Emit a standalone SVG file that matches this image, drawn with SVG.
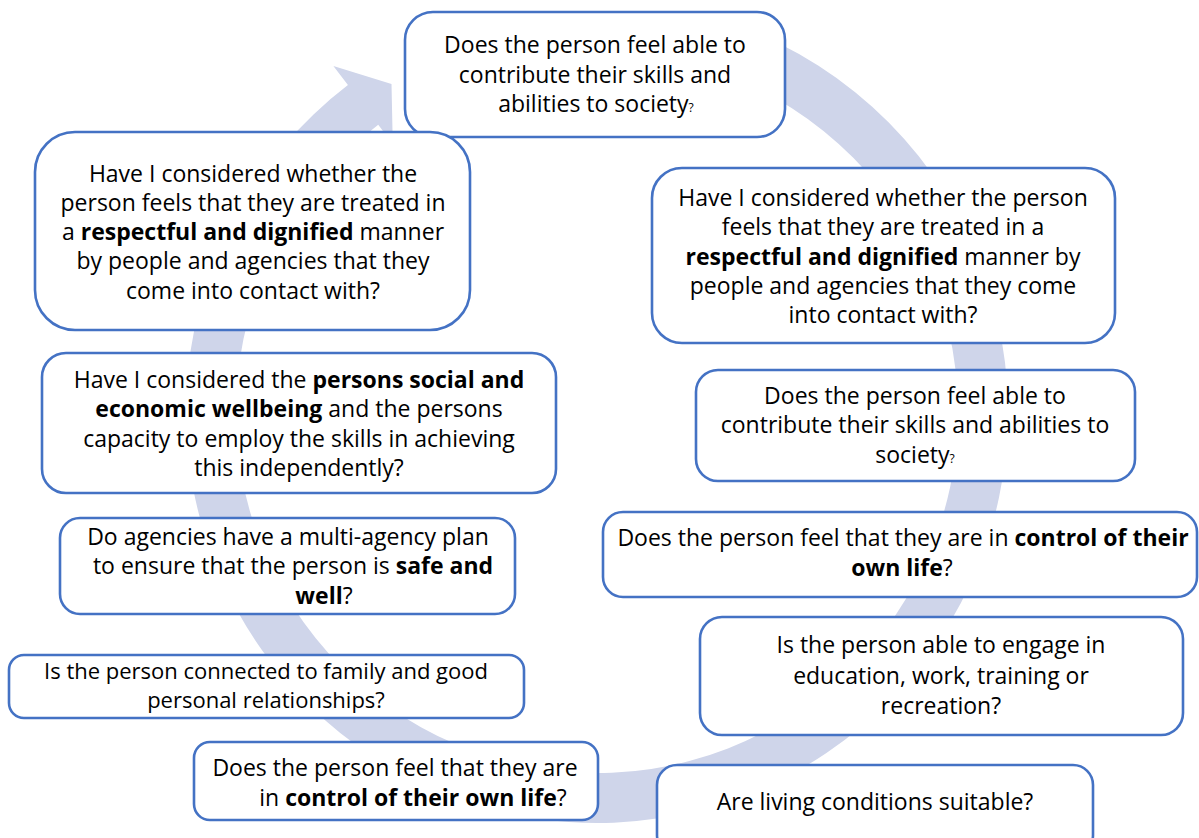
<svg xmlns="http://www.w3.org/2000/svg" width="1199" height="838" viewBox="0 0 1199 838">
  <style>
    .box { fill: #ffffff; stroke: #4472C4; stroke-width: 2.6; }
    .t { font-family: "Open Sans", "Liberation Sans", sans-serif; font-size: 23px; fill: #000000; text-anchor: middle; }
    .s { font-size: 22px; }
    .b { font-weight: bold; }
    .q { font-size: 12px; }
    .ring { fill: #CFD5EA; }
  </style>

  <!-- circular flow arrow behind the question boxes -->
  <g id="connectors">
    <path class="ring" d="M 737.57 25.79 A 411 411 0 1 1 347.94 85.06 L 333.39 65.97 L 391.5 84 L 392.78 143.93 L 378.24 124.84 A 361 361 0 1 0 720.47 72.77 Z"/>
  </g>

  <g id="node-contribute-top">
    <rect class="box" x="405" y="12" width="380" height="125" rx="28"/>
    <text class="t" x="595" y="53">Does the person feel able to</text>
    <text class="t" x="595" y="82.5">contribute their skills and</text>
    <text class="t" x="596" y="112">abilities to society<tspan class="q">?</tspan></text>
  </g>

  <g id="node-respect-left">
    <rect class="box" x="35" y="132" width="435" height="198" rx="40"/>
    <text class="t" x="253" y="181.5">Have I considered whether the</text>
    <text class="t" x="253" y="210.8">person feels that they are treated in</text>
    <text class="t" x="253" y="240.1">a <tspan class="b">respectful and dignified</tspan> manner</text>
    <text class="t" x="253" y="269.4">by people and agencies that they</text>
    <text class="t" x="253" y="298.7">come into contact with?</text>
  </g>

  <g id="node-respect-right">
    <rect class="box" x="652" y="168" width="463" height="175" rx="30"/>
    <text class="t" x="883" y="206">Have I considered whether the person</text>
    <text class="t" x="883" y="235.3">feels that they are treated in a</text>
    <text class="t" x="883" y="264.6"><tspan class="b">respectful and dignified</tspan> manner by</text>
    <text class="t" x="883" y="293.9">people and agencies that they come</text>
    <text class="t" x="883" y="323.2">into contact with?</text>
  </g>

  <g id="node-wellbeing">
    <rect class="box" x="42" y="353" width="514" height="140" rx="24"/>
    <text class="t" x="299" y="388">Have I considered the <tspan class="b">persons social and</tspan></text>
    <text class="t" x="299" y="417.3"><tspan class="b">economic wellbeing</tspan> and the persons</text>
    <text class="t" x="299" y="446.6">capacity to employ the skills in achieving</text>
    <text class="t" x="299" y="475.9">this independently?</text>
  </g>

  <g id="node-contribute-right">
    <rect class="box" x="696" y="370" width="439" height="111" rx="22"/>
    <text class="t" x="915" y="404">Does the person feel able to</text>
    <text class="t" x="915" y="433.3">contribute their skills and abilities to</text>
    <text class="t" x="915" y="462.6">society<tspan class="q">?</tspan></text>
  </g>

  <g id="node-safe">
    <rect class="box" x="60" y="518" width="455" height="96" rx="20"/>
    <text class="t" x="288" y="545">Do agencies have a multi-agency plan</text>
    <text class="t" x="293" y="574.3">to ensure that the person is <tspan class="b">safe and</tspan></text>
    <text class="t" x="324" y="603.6"><tspan class="b">well</tspan>?</text>
  </g>

  <g id="node-control-right">
    <rect class="box" x="603" y="512" width="594" height="85" rx="20"/>
    <text class="t" x="903" y="546">Does the person feel that they are in <tspan class="b">control of their</tspan></text>
    <text class="t" x="902" y="576"><tspan class="b">own life</tspan>?</text>
  </g>

  <g id="node-family">
    <rect class="box" x="9" y="655" width="515" height="63" rx="15"/>
    <text class="t s" x="266" y="678.5">Is the person connected to family and good</text>
    <text class="t s" x="266" y="707.5">personal relationships?</text>
  </g>

  <g id="node-education">
    <rect class="box" x="700" y="617" width="483" height="118" rx="22"/>
    <text class="t" x="941" y="653">Is the person able to engage in</text>
    <text class="t" x="941" y="683.5">education, work, training or</text>
    <text class="t" x="941" y="714">recreation?</text>
  </g>

  <g id="node-control-bottom">
    <rect class="box" x="194" y="742" width="404" height="78" rx="16"/>
    <text class="t" x="395" y="776">Does the person feel that they are</text>
    <text class="t" x="413" y="806">in <tspan class="b">control of their own life</tspan>?</text>
  </g>

  <g id="node-living">
    <rect class="box" x="657" y="765" width="436" height="90" rx="20"/>
    <text class="t" x="875" y="810">Are living conditions suitable?</text>
  </g>
</svg>
